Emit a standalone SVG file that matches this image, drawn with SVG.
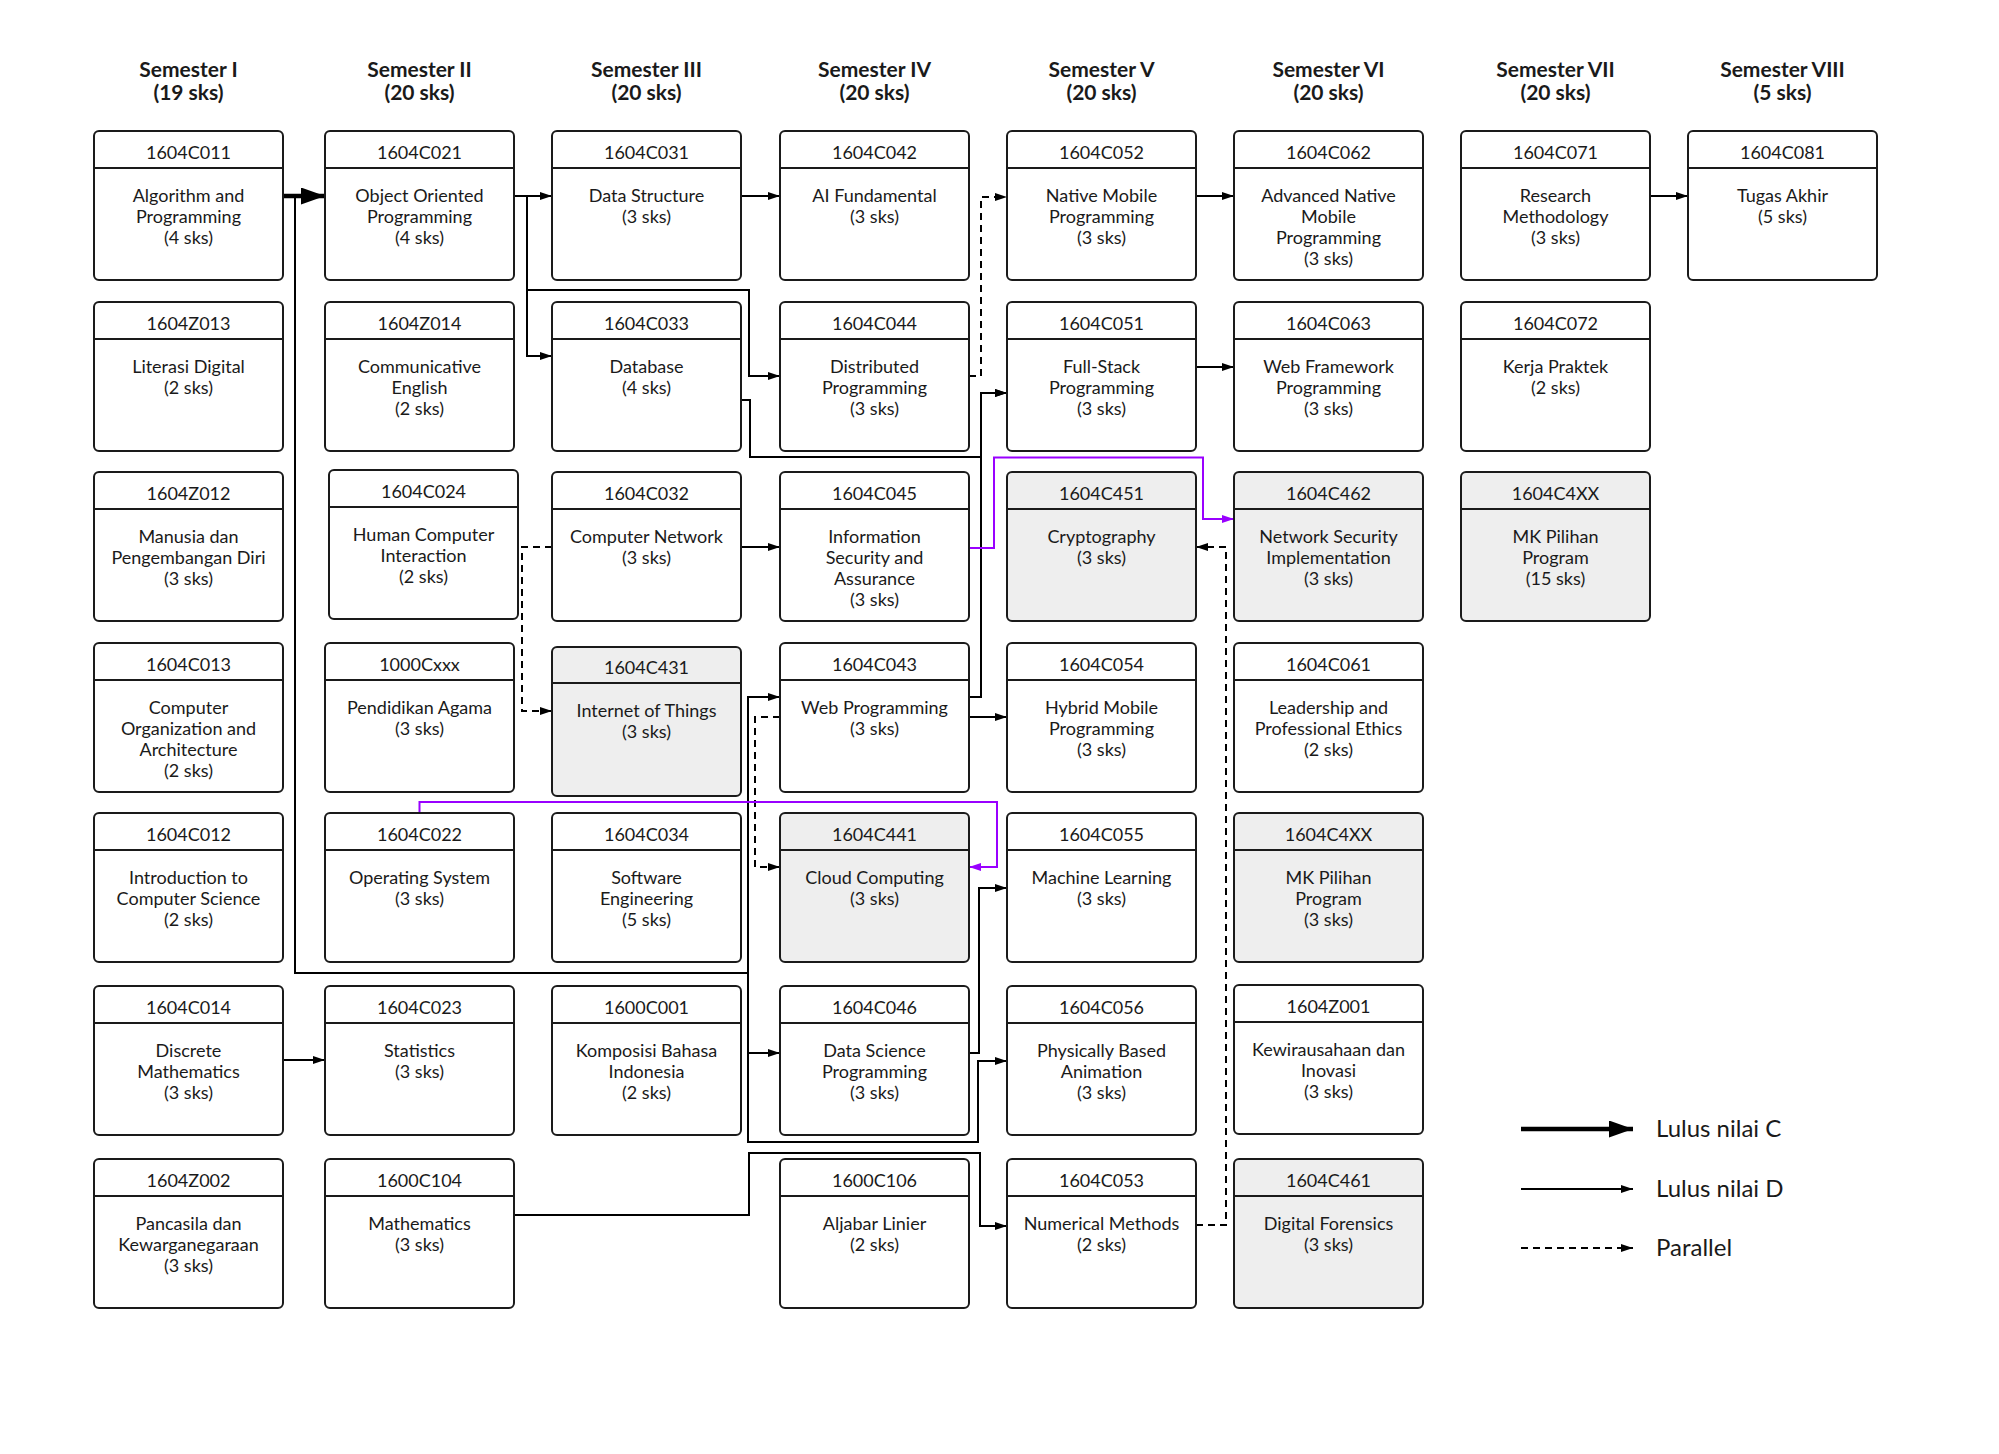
<svg xmlns="http://www.w3.org/2000/svg" width="1999" height="1454" viewBox="0 0 1999 1454">
<style>
text{font-family:Lato,"Liberation Sans",sans-serif;fill:#1a1a1a}
.sem{font-size:21px;font-weight:bold;text-anchor:middle}
.code{font-size:18px;text-anchor:middle}
.body{font-size:18px;text-anchor:middle}
.box{fill:#fff;stroke:#1a1a1a;stroke-width:2}
.gray .box{fill:#eeeeee}
.hdr{stroke:#1a1a1a;stroke-width:2}
.c{fill:none;stroke:#000;stroke-width:2}
.d{fill:none;stroke:#000;stroke-width:2;stroke-dasharray:7 5}
.p{fill:none;stroke:#9900ff;stroke-width:2}
.thick{fill:none;stroke:#000;stroke-width:4.5}
.leg{font-size:24px}
</style>
<defs>
<marker id="a" markerUnits="userSpaceOnUse" markerWidth="12" markerHeight="8" refX="12" refY="4" orient="auto"><path d="M0,0 L12,4 L0,8 z" fill="#000"/></marker>
<marker id="ap" markerUnits="userSpaceOnUse" markerWidth="12" markerHeight="8" refX="12" refY="4" orient="auto"><path d="M0,0 L12,4 L0,8 z" fill="#9900ff"/></marker>
<marker id="at" markerUnits="userSpaceOnUse" markerWidth="25" markerHeight="17" refX="24" refY="8.5" orient="auto"><path d="M0,0 L24,8.5 L0,17 z" fill="#000"/></marker>
</defs>
<rect width="1999" height="1454" fill="#fff"/>
<g id="headers">
<text class="sem" x="188.5" y="77">Semester I</text><text class="sem" x="188.5" y="100">(19 sks)</text>
<text class="sem" x="419.5" y="77">Semester II</text><text class="sem" x="419.5" y="100">(20 sks)</text>
<text class="sem" x="646.5" y="77">Semester III</text><text class="sem" x="646.5" y="100">(20 sks)</text>
<text class="sem" x="874.5" y="77">Semester IV</text><text class="sem" x="874.5" y="100">(20 sks)</text>
<text class="sem" x="1101.5" y="77">Semester V</text><text class="sem" x="1101.5" y="100">(20 sks)</text>
<text class="sem" x="1328.5" y="77">Semester VI</text><text class="sem" x="1328.5" y="100">(20 sks)</text>
<text class="sem" x="1555.5" y="77">Semester VII</text><text class="sem" x="1555.5" y="100">(20 sks)</text>
<text class="sem" x="1782.5" y="77">Semester VIII</text><text class="sem" x="1782.5" y="100">(5 sks)</text>
</g>
<g id="connectors">
<path class="thick" d="M283,196 H325" marker-end="url(#at)"/>
<path class="c" d="M514,196 H552" marker-end="url(#a)"/>
<path class="c" d="M514,196 H527 V356 H552" marker-end="url(#a)"/>
<path class="c" d="M527,290 H749 V376 H780" marker-end="url(#a)"/>
<path class="c" d="M741,196 H780" marker-end="url(#a)"/>
<path class="c" d="M741,400 H750 V457 H981 V393 H1007" marker-end="url(#a)"/>
<path class="c" d="M969,697 H981 V393 H1007" marker-end="url(#a)"/>
<path class="c" d="M969,717 H1007" marker-end="url(#a)"/>
<path class="c" d="M741,547 H780" marker-end="url(#a)"/>
<path class="c" d="M1196,196 H1234" marker-end="url(#a)"/>
<path class="c" d="M1196,367 H1234" marker-end="url(#a)"/>
<path class="c" d="M1650,196 H1688" marker-end="url(#a)"/>
<path class="c" d="M283,1060 H325" marker-end="url(#a)"/>
<path class="c" d="M295,196 V973 H748 V697 H780" marker-end="url(#a)"/>
<path class="c" d="M748,973 V1053 H780" marker-end="url(#a)"/>
<path class="c" d="M748,1053 V1142 H978 V1061 H1007" marker-end="url(#a)"/>
<path class="c" d="M969,1053 H979 V888 H1007" marker-end="url(#a)"/>
<path class="c" d="M514,1215 H749 V1153 H980 V1226 H1007" marker-end="url(#a)"/>
<path class="d" d="M969,376 H981 V197 H1007" marker-end="url(#a)"/>
<path class="d" d="M552,547 H522 V711 H552" marker-end="url(#a)"/>
<path class="d" d="M780,717 H755 V867 H780" marker-end="url(#a)"/>
<path class="d" d="M1196,1225 H1226 V547 H1196" marker-end="url(#a)"/>
<path class="p" d="M969,548 H994 V457.5 H1203 V519 H1234" marker-end="url(#ap)"/>
<path class="p" d="M419.5,813 V802 H997 V867 H969" marker-end="url(#ap)"/>
</g>
<g id="n-1604C011"><rect class="box" x="94" y="131" width="189" height="149" rx="5"/><line class="hdr" x1="94" y1="168" x2="283" y2="168"/><text class="code" x="188.5" y="159">1604C011</text><text class="body" x="188.5" y="202"><tspan x="188.5">Algorithm and</tspan><tspan x="188.5" dy="21">Programming</tspan><tspan x="188.5" dy="21">(4 sks)</tspan></text></g>
<g id="n-1604Z013"><rect class="box" x="94" y="302" width="189" height="149" rx="5"/><line class="hdr" x1="94" y1="339" x2="283" y2="339"/><text class="code" x="188.5" y="330">1604Z013</text><text class="body" x="188.5" y="373"><tspan x="188.5">Literasi Digital</tspan><tspan x="188.5" dy="21">(2 sks)</tspan></text></g>
<g id="n-1604Z012"><rect class="box" x="94" y="472" width="189" height="149" rx="5"/><line class="hdr" x1="94" y1="509" x2="283" y2="509"/><text class="code" x="188.5" y="500">1604Z012</text><text class="body" x="188.5" y="543"><tspan x="188.5">Manusia dan</tspan><tspan x="188.5" dy="21">Pengembangan Diri</tspan><tspan x="188.5" dy="21">(3 sks)</tspan></text></g>
<g id="n-1604C013"><rect class="box" x="94" y="643" width="189" height="149" rx="5"/><line class="hdr" x1="94" y1="680" x2="283" y2="680"/><text class="code" x="188.5" y="671">1604C013</text><text class="body" x="188.5" y="714"><tspan x="188.5">Computer</tspan><tspan x="188.5" dy="21">Organization and</tspan><tspan x="188.5" dy="21">Architecture</tspan><tspan x="188.5" dy="21">(2 sks)</tspan></text></g>
<g id="n-1604C012"><rect class="box" x="94" y="813" width="189" height="149" rx="5"/><line class="hdr" x1="94" y1="850" x2="283" y2="850"/><text class="code" x="188.5" y="841">1604C012</text><text class="body" x="188.5" y="884"><tspan x="188.5">Introduction to</tspan><tspan x="188.5" dy="21">Computer Science</tspan><tspan x="188.5" dy="21">(2 sks)</tspan></text></g>
<g id="n-1604C014"><rect class="box" x="94" y="986" width="189" height="149" rx="5"/><line class="hdr" x1="94" y1="1023" x2="283" y2="1023"/><text class="code" x="188.5" y="1014">1604C014</text><text class="body" x="188.5" y="1057"><tspan x="188.5">Discrete</tspan><tspan x="188.5" dy="21">Mathematics</tspan><tspan x="188.5" dy="21">(3 sks)</tspan></text></g>
<g id="n-1604Z002"><rect class="box" x="94" y="1159" width="189" height="149" rx="5"/><line class="hdr" x1="94" y1="1196" x2="283" y2="1196"/><text class="code" x="188.5" y="1187">1604Z002</text><text class="body" x="188.5" y="1230"><tspan x="188.5">Pancasila dan</tspan><tspan x="188.5" dy="21">Kewarganegaraan</tspan><tspan x="188.5" dy="21">(3 sks)</tspan></text></g>

<g id="n-1604C021"><rect class="box" x="325" y="131" width="189" height="149" rx="5"/><line class="hdr" x1="325" y1="168" x2="514" y2="168"/><text class="code" x="419.5" y="159">1604C021</text><text class="body" x="419.5" y="202"><tspan x="419.5">Object Oriented</tspan><tspan x="419.5" dy="21">Programming</tspan><tspan x="419.5" dy="21">(4 sks)</tspan></text></g>
<g id="n-1604Z014"><rect class="box" x="325" y="302" width="189" height="149" rx="5"/><line class="hdr" x1="325" y1="339" x2="514" y2="339"/><text class="code" x="419.5" y="330">1604Z014</text><text class="body" x="419.5" y="373"><tspan x="419.5">Communicative</tspan><tspan x="419.5" dy="21">English</tspan><tspan x="419.5" dy="21">(2 sks)</tspan></text></g>
<g id="n-1604C024"><rect class="box" x="329" y="470" width="189" height="149" rx="5"/><line class="hdr" x1="329" y1="507" x2="518" y2="507"/><text class="code" x="423.5" y="498">1604C024</text><text class="body" x="423.5" y="541"><tspan x="423.5">Human Computer</tspan><tspan x="423.5" dy="21">Interaction</tspan><tspan x="423.5" dy="21">(2 sks)</tspan></text></g>
<g id="n-1000Cxxx"><rect class="box" x="325" y="643" width="189" height="149" rx="5"/><line class="hdr" x1="325" y1="680" x2="514" y2="680"/><text class="code" x="419.5" y="671">1000Cxxx</text><text class="body" x="419.5" y="714"><tspan x="419.5">Pendidikan Agama</tspan><tspan x="419.5" dy="21">(3 sks)</tspan></text></g>
<g id="n-1604C022"><rect class="box" x="325" y="813" width="189" height="149" rx="5"/><line class="hdr" x1="325" y1="850" x2="514" y2="850"/><text class="code" x="419.5" y="841">1604C022</text><text class="body" x="419.5" y="884"><tspan x="419.5">Operating System</tspan><tspan x="419.5" dy="21">(3 sks)</tspan></text></g>
<g id="n-1604C023"><rect class="box" x="325" y="986" width="189" height="149" rx="5"/><line class="hdr" x1="325" y1="1023" x2="514" y2="1023"/><text class="code" x="419.5" y="1014">1604C023</text><text class="body" x="419.5" y="1057"><tspan x="419.5">Statistics</tspan><tspan x="419.5" dy="21">(3 sks)</tspan></text></g>
<g id="n-1600C104"><rect class="box" x="325" y="1159" width="189" height="149" rx="5"/><line class="hdr" x1="325" y1="1196" x2="514" y2="1196"/><text class="code" x="419.5" y="1187">1600C104</text><text class="body" x="419.5" y="1230"><tspan x="419.5">Mathematics</tspan><tspan x="419.5" dy="21">(3 sks)</tspan></text></g>

<g id="n-1604C031"><rect class="box" x="552" y="131" width="189" height="149" rx="5"/><line class="hdr" x1="552" y1="168" x2="741" y2="168"/><text class="code" x="646.5" y="159">1604C031</text><text class="body" x="646.5" y="202"><tspan x="646.5">Data Structure</tspan><tspan x="646.5" dy="21">(3 sks)</tspan></text></g>
<g id="n-1604C033"><rect class="box" x="552" y="302" width="189" height="149" rx="5"/><line class="hdr" x1="552" y1="339" x2="741" y2="339"/><text class="code" x="646.5" y="330">1604C033</text><text class="body" x="646.5" y="373"><tspan x="646.5">Database</tspan><tspan x="646.5" dy="21">(4 sks)</tspan></text></g>
<g id="n-1604C032"><rect class="box" x="552" y="472" width="189" height="149" rx="5"/><line class="hdr" x1="552" y1="509" x2="741" y2="509"/><text class="code" x="646.5" y="500">1604C032</text><text class="body" x="646.5" y="543"><tspan x="646.5">Computer Network</tspan><tspan x="646.5" dy="21">(3 sks)</tspan></text></g>
<g id="n-1604C431" class="gray"><rect class="box" x="552" y="647" width="189" height="149" rx="5"/><line class="hdr" x1="552" y1="683" x2="741" y2="683"/><text class="code" x="646.5" y="674">1604C431</text><text class="body" x="646.5" y="717"><tspan x="646.5">Internet of Things</tspan><tspan x="646.5" dy="21">(3 sks)</tspan></text></g>
<g id="n-1604C034"><rect class="box" x="552" y="813" width="189" height="149" rx="5"/><line class="hdr" x1="552" y1="850" x2="741" y2="850"/><text class="code" x="646.5" y="841">1604C034</text><text class="body" x="646.5" y="884"><tspan x="646.5">Software</tspan><tspan x="646.5" dy="21">Engineering</tspan><tspan x="646.5" dy="21">(5 sks)</tspan></text></g>
<g id="n-1600C001"><rect class="box" x="552" y="986" width="189" height="149" rx="5"/><line class="hdr" x1="552" y1="1023" x2="741" y2="1023"/><text class="code" x="646.5" y="1014">1600C001</text><text class="body" x="646.5" y="1057"><tspan x="646.5">Komposisi Bahasa</tspan><tspan x="646.5" dy="21">Indonesia</tspan><tspan x="646.5" dy="21">(2 sks)</tspan></text></g>

<g id="n-1604C042"><rect class="box" x="780" y="131" width="189" height="149" rx="5"/><line class="hdr" x1="780" y1="168" x2="969" y2="168"/><text class="code" x="874.5" y="159">1604C042</text><text class="body" x="874.5" y="202"><tspan x="874.5">AI Fundamental</tspan><tspan x="874.5" dy="21">(3 sks)</tspan></text></g>
<g id="n-1604C044"><rect class="box" x="780" y="302" width="189" height="149" rx="5"/><line class="hdr" x1="780" y1="339" x2="969" y2="339"/><text class="code" x="874.5" y="330">1604C044</text><text class="body" x="874.5" y="373"><tspan x="874.5">Distributed</tspan><tspan x="874.5" dy="21">Programming</tspan><tspan x="874.5" dy="21">(3 sks)</tspan></text></g>
<g id="n-1604C045"><rect class="box" x="780" y="472" width="189" height="149" rx="5"/><line class="hdr" x1="780" y1="509" x2="969" y2="509"/><text class="code" x="874.5" y="500">1604C045</text><text class="body" x="874.5" y="543"><tspan x="874.5">Information</tspan><tspan x="874.5" dy="21">Security and</tspan><tspan x="874.5" dy="21">Assurance</tspan><tspan x="874.5" dy="21">(3 sks)</tspan></text></g>
<g id="n-1604C043"><rect class="box" x="780" y="643" width="189" height="149" rx="5"/><line class="hdr" x1="780" y1="680" x2="969" y2="680"/><text class="code" x="874.5" y="671">1604C043</text><text class="body" x="874.5" y="714"><tspan x="874.5">Web Programming</tspan><tspan x="874.5" dy="21">(3 sks)</tspan></text></g>
<g id="n-1604C441" class="gray"><rect class="box" x="780" y="813" width="189" height="149" rx="5"/><line class="hdr" x1="780" y1="850" x2="969" y2="850"/><text class="code" x="874.5" y="841">1604C441</text><text class="body" x="874.5" y="884"><tspan x="874.5">Cloud Computing</tspan><tspan x="874.5" dy="21">(3 sks)</tspan></text></g>
<g id="n-1604C046"><rect class="box" x="780" y="986" width="189" height="149" rx="5"/><line class="hdr" x1="780" y1="1023" x2="969" y2="1023"/><text class="code" x="874.5" y="1014">1604C046</text><text class="body" x="874.5" y="1057"><tspan x="874.5">Data Science</tspan><tspan x="874.5" dy="21">Programming</tspan><tspan x="874.5" dy="21">(3 sks)</tspan></text></g>
<g id="n-1600C106"><rect class="box" x="780" y="1159" width="189" height="149" rx="5"/><line class="hdr" x1="780" y1="1196" x2="969" y2="1196"/><text class="code" x="874.5" y="1187">1600C106</text><text class="body" x="874.5" y="1230"><tspan x="874.5">Aljabar Linier</tspan><tspan x="874.5" dy="21">(2 sks)</tspan></text></g>

<g id="n-1604C052"><rect class="box" x="1007" y="131" width="189" height="149" rx="5"/><line class="hdr" x1="1007" y1="168" x2="1196" y2="168"/><text class="code" x="1101.5" y="159">1604C052</text><text class="body" x="1101.5" y="202"><tspan x="1101.5">Native Mobile</tspan><tspan x="1101.5" dy="21">Programming</tspan><tspan x="1101.5" dy="21">(3 sks)</tspan></text></g>
<g id="n-1604C051"><rect class="box" x="1007" y="302" width="189" height="149" rx="5"/><line class="hdr" x1="1007" y1="339" x2="1196" y2="339"/><text class="code" x="1101.5" y="330">1604C051</text><text class="body" x="1101.5" y="373"><tspan x="1101.5">Full-Stack</tspan><tspan x="1101.5" dy="21">Programming</tspan><tspan x="1101.5" dy="21">(3 sks)</tspan></text></g>
<g id="n-1604C451" class="gray"><rect class="box" x="1007" y="472" width="189" height="149" rx="5"/><line class="hdr" x1="1007" y1="509" x2="1196" y2="509"/><text class="code" x="1101.5" y="500">1604C451</text><text class="body" x="1101.5" y="543"><tspan x="1101.5">Cryptography</tspan><tspan x="1101.5" dy="21">(3 sks)</tspan></text></g>
<g id="n-1604C054"><rect class="box" x="1007" y="643" width="189" height="149" rx="5"/><line class="hdr" x1="1007" y1="680" x2="1196" y2="680"/><text class="code" x="1101.5" y="671">1604C054</text><text class="body" x="1101.5" y="714"><tspan x="1101.5">Hybrid Mobile</tspan><tspan x="1101.5" dy="21">Programming</tspan><tspan x="1101.5" dy="21">(3 sks)</tspan></text></g>
<g id="n-1604C055"><rect class="box" x="1007" y="813" width="189" height="149" rx="5"/><line class="hdr" x1="1007" y1="850" x2="1196" y2="850"/><text class="code" x="1101.5" y="841">1604C055</text><text class="body" x="1101.5" y="884"><tspan x="1101.5">Machine Learning</tspan><tspan x="1101.5" dy="21">(3 sks)</tspan></text></g>
<g id="n-1604C056"><rect class="box" x="1007" y="986" width="189" height="149" rx="5"/><line class="hdr" x1="1007" y1="1023" x2="1196" y2="1023"/><text class="code" x="1101.5" y="1014">1604C056</text><text class="body" x="1101.5" y="1057"><tspan x="1101.5">Physically Based</tspan><tspan x="1101.5" dy="21">Animation</tspan><tspan x="1101.5" dy="21">(3 sks)</tspan></text></g>
<g id="n-1604C053"><rect class="box" x="1007" y="1159" width="189" height="149" rx="5"/><line class="hdr" x1="1007" y1="1196" x2="1196" y2="1196"/><text class="code" x="1101.5" y="1187">1604C053</text><text class="body" x="1101.5" y="1230"><tspan x="1101.5">Numerical Methods</tspan><tspan x="1101.5" dy="21">(2 sks)</tspan></text></g>

<g id="n-1604C062"><rect class="box" x="1234" y="131" width="189" height="149" rx="5"/><line class="hdr" x1="1234" y1="168" x2="1423" y2="168"/><text class="code" x="1328.5" y="159">1604C062</text><text class="body" x="1328.5" y="202"><tspan x="1328.5">Advanced Native</tspan><tspan x="1328.5" dy="21">Mobile</tspan><tspan x="1328.5" dy="21">Programming</tspan><tspan x="1328.5" dy="21">(3 sks)</tspan></text></g>
<g id="n-1604C063"><rect class="box" x="1234" y="302" width="189" height="149" rx="5"/><line class="hdr" x1="1234" y1="339" x2="1423" y2="339"/><text class="code" x="1328.5" y="330">1604C063</text><text class="body" x="1328.5" y="373"><tspan x="1328.5">Web Framework</tspan><tspan x="1328.5" dy="21">Programming</tspan><tspan x="1328.5" dy="21">(3 sks)</tspan></text></g>
<g id="n-1604C462" class="gray"><rect class="box" x="1234" y="472" width="189" height="149" rx="5"/><line class="hdr" x1="1234" y1="509" x2="1423" y2="509"/><text class="code" x="1328.5" y="500">1604C462</text><text class="body" x="1328.5" y="543"><tspan x="1328.5">Network Security</tspan><tspan x="1328.5" dy="21">Implementation</tspan><tspan x="1328.5" dy="21">(3 sks)</tspan></text></g>
<g id="n-1604C061"><rect class="box" x="1234" y="643" width="189" height="149" rx="5"/><line class="hdr" x1="1234" y1="680" x2="1423" y2="680"/><text class="code" x="1328.5" y="671">1604C061</text><text class="body" x="1328.5" y="714"><tspan x="1328.5">Leadership and</tspan><tspan x="1328.5" dy="21">Professional Ethics</tspan><tspan x="1328.5" dy="21">(2 sks)</tspan></text></g>
<g id="n-1604C4XX-6" class="gray"><rect class="box" x="1234" y="813" width="189" height="149" rx="5"/><line class="hdr" x1="1234" y1="850" x2="1423" y2="850"/><text class="code" x="1328.5" y="841">1604C4XX</text><text class="body" x="1328.5" y="884"><tspan x="1328.5">MK Pilihan</tspan><tspan x="1328.5" dy="21">Program</tspan><tspan x="1328.5" dy="21">(3 sks)</tspan></text></g>
<g id="n-1604Z001"><rect class="box" x="1234" y="985" width="189" height="149" rx="5"/><line class="hdr" x1="1234" y1="1022" x2="1423" y2="1022"/><text class="code" x="1328.5" y="1013">1604Z001</text><text class="body" x="1328.5" y="1056"><tspan x="1328.5">Kewirausahaan dan</tspan><tspan x="1328.5" dy="21">Inovasi</tspan><tspan x="1328.5" dy="21">(3 sks)</tspan></text></g>
<g id="n-1604C461" class="gray"><rect class="box" x="1234" y="1159" width="189" height="149" rx="5"/><line class="hdr" x1="1234" y1="1196" x2="1423" y2="1196"/><text class="code" x="1328.5" y="1187">1604C461</text><text class="body" x="1328.5" y="1230"><tspan x="1328.5">Digital Forensics</tspan><tspan x="1328.5" dy="21">(3 sks)</tspan></text></g>

<g id="n-1604C071"><rect class="box" x="1461" y="131" width="189" height="149" rx="5"/><line class="hdr" x1="1461" y1="168" x2="1650" y2="168"/><text class="code" x="1555.5" y="159">1604C071</text><text class="body" x="1555.5" y="202"><tspan x="1555.5">Research</tspan><tspan x="1555.5" dy="21">Methodology</tspan><tspan x="1555.5" dy="21">(3 sks)</tspan></text></g>
<g id="n-1604C072"><rect class="box" x="1461" y="302" width="189" height="149" rx="5"/><line class="hdr" x1="1461" y1="339" x2="1650" y2="339"/><text class="code" x="1555.5" y="330">1604C072</text><text class="body" x="1555.5" y="373"><tspan x="1555.5">Kerja Praktek</tspan><tspan x="1555.5" dy="21">(2 sks)</tspan></text></g>
<g id="n-1604C4XX-7" class="gray"><rect class="box" x="1461" y="472" width="189" height="149" rx="5"/><line class="hdr" x1="1461" y1="509" x2="1650" y2="509"/><text class="code" x="1555.5" y="500">1604C4XX</text><text class="body" x="1555.5" y="543"><tspan x="1555.5">MK Pilihan</tspan><tspan x="1555.5" dy="21">Program</tspan><tspan x="1555.5" dy="21">(15 sks)</tspan></text></g>

<g id="n-1604C081"><rect class="box" x="1688" y="131" width="189" height="149" rx="5"/><line class="hdr" x1="1688" y1="168" x2="1877" y2="168"/><text class="code" x="1782.5" y="159">1604C081</text><text class="body" x="1782.5" y="202"><tspan x="1782.5">Tugas Akhir</tspan><tspan x="1782.5" dy="21">(5 sks)</tspan></text></g>

<g id="legend">
<path class="thick" d="M1521,1129 H1633" marker-end="url(#at)"/>
<text class="leg" x="1656" y="1137">Lulus nilai C</text>
<path class="c" d="M1521,1189 H1633" marker-end="url(#a)"/>
<text class="leg" x="1656" y="1197">Lulus nilai D</text>
<path class="d" d="M1521,1248 H1633" marker-end="url(#a)"/>
<text class="leg" x="1656" y="1256">Parallel</text>
</g>
</svg>
